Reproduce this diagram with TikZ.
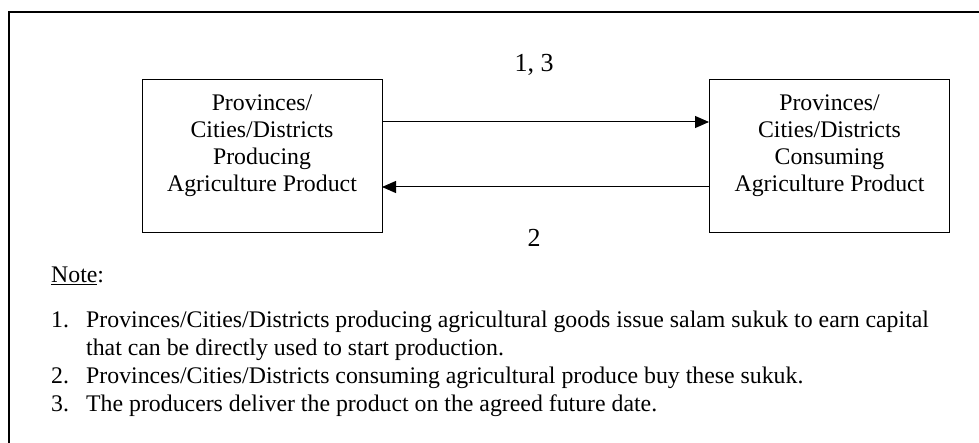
\documentclass[tikz,border=0pt]{standalone}
\usepackage{fontspec}
\setmainfont{Liberation Serif}
\usetikzlibrary{arrows.meta}
\begin{document}
\begin{tikzpicture}[x=1pt,y=-1pt,
  regionbox/.style={draw, line width=1.4pt, minimum width=240pt, minimum height=153pt, anchor=north west, inner sep=0pt},
  boxtext/.style={align=center, anchor=north, font=\fontsize{23.8}{26.8}\selectfont, inner sep=0pt},
  flow/.style={line width=1pt, -{Triangle[length=14pt,width=12pt]}},
  flowlabel/.style={font=\fontsize{26}{30}\selectfont, inner sep=0pt, anchor=base},
  notetext/.style={font=\fontsize{23.8}{27}\selectfont, inner sep=0pt, anchor=base west}]
\useasboundingbox (0,0) rectangle (979,443);
% outer frame, running past the right and bottom edges
\draw[line width=1.4pt] (9,460) -- (9,12) -- (1000,12);

% the two regions
\node[regionbox] (prod) at (142,79) {};
\node[regionbox] (cons) at (709,79) {};
\node[boxtext] (prodtxt) at (262,95) {Provinces/\\Cities/Districts\\Producing\\Agriculture Product};
\node[boxtext] (constxt) at (829.5,95) {Provinces/\\Cities/Districts\\Consuming\\Agriculture Product};

% flows between the regions
\coordinate (p1) at (382,122);
\coordinate (c1) at (709,122);
\coordinate (p2) at (382,187);
\coordinate (c2) at (709,187);
\draw[flow] (p1) -- (c1);
\draw[flow] (c2) -- (p2);
\node[flowlabel] (lab13) at (534,72) {1, 3};
\node[flowlabel] (lab2) at (534,247) {2};

% notes
\node[notetext] (note) at (51,283) {\underline{Note}:};
\node[notetext] (n1) at (51,327) {1.};
\node[notetext] (t1) at (86,327) {Provinces/Cities/Districts producing agricultural goods issue salam sukuk to earn capital};
\node[notetext] (t1b) at (86,355) {that can be directly used to start production.};
\node[notetext] (n2) at (51,383) {2.};
\node[notetext] (t2) at (86,383) {Provinces/Cities/Districts consuming agricultural produce buy these sukuk.};
\node[notetext] (n3) at (51,411) {3.};
\node[notetext] (t3) at (86,411) {The producers deliver the product on the agreed future date.};
\end{tikzpicture}
\end{document}
